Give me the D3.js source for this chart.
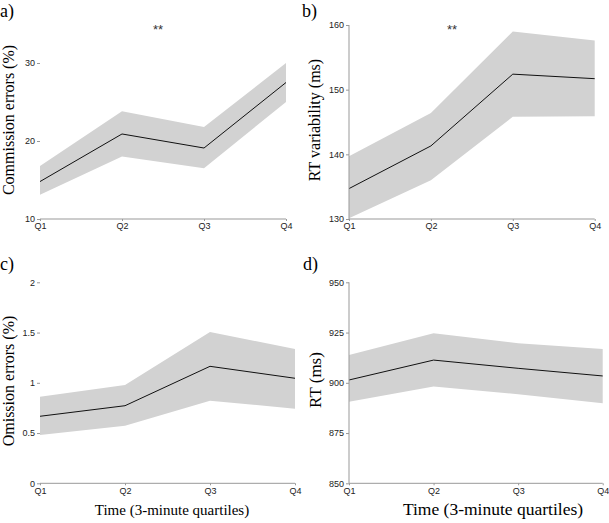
<!DOCTYPE html>
<html><head><meta charset="utf-8">
<script src="https://cdn.jsdelivr.net/npm/d3@7"></script>
<style>body{margin:0;background:#fff}svg{display:block}</style>
</head><body>
<svg id="c" width="609" height="523"></svg>
<script>
const quartiles = ["Q1","Q2","Q3","Q4"];
const commMean = [14.8, 20.9, 19.1, 27.5];
const commUpper = [16.8, 23.8, 21.8, 30.0];
const commLower = [13.1, 18.0, 16.5, 25.0];
const commTicks = [10, 20, 30];
const rtvMean = [134.7, 141.3, 152.4, 151.7];
const rtvUpper = [139.7, 146.4, 159.0, 157.6];
const rtvLower = [130.1, 136.0, 145.8, 145.9];
const rtvTicks = [130, 140, 150, 160];
const omMean = [0.667, 0.772, 1.164, 1.045];
const omUpper = [0.862, 0.978, 1.505, 1.336];
const omLower = [0.48, 0.573, 0.822, 0.742];
const omTicks = [0, 0.5, 1, 1.5, 2];
const rtMean = [901.4, 911.3, 907.2, 903.4];
const rtUpper = [913.8, 924.6, 919.7, 916.8];
const rtLower = [890.6, 898.1, 894.3, 889.8];
const rtTicks = [850, 875, 900, 925, 950];

const svg = d3.select("#c");
const panels = [
  {letter:"a)", lx:0, ly:17, ylab:"Commission errors (%)", ylabX:14, ylabY:120, ylabS:16, mean:commMean, up:commUpper, lo:commLower, ticks:commTicks, dom:[10,30], x0:40, x1:286, yb:219, yt:63, yline:false, stars:[158,34], xtitle:null},
  {letter:"b)", lx:302, ly:17, ylab:"RT variability (ms)", ylabX:320, ylabY:120, ylabS:16, mean:rtvMean, up:rtvUpper, lo:rtvLower, ticks:rtvTicks, dom:[130,160], x0:349, x1:594.7, yb:219, yt:25, yline:true, stars:[452,34], xtitle:null},
  {letter:"c)", lx:0, ly:270, ylab:"Omission errors (%)", ylabX:14, ylabY:381, ylabS:16, mean:omMean, up:omUpper, lo:omLower, ticks:omTicks, dom:[0,2], x0:40, x1:295, yb:483.3, yt:282.3, yline:false, stars:null, xtitle:[172,515,15]},
  {letter:"d)", lx:303, ly:270, ylab:"RT (ms)", ylabX:321, ylabY:380, ylabS:17, mean:rtMean, up:rtUpper, lo:rtLower, ticks:rtTicks, dom:[850,950], x0:349, x1:602.7, yb:483.3, yt:282.3, yline:true, stars:null, xtitle:[493,515,17.5]}
];

const axisCol = "#999";
panels.forEach(p => {
  const g = svg.append("g");
  const x = d3.scalePoint().domain(quartiles).range([p.x0, p.x1]);
  const y = d3.scaleLinear().domain(p.dom).range([p.yb, p.yt]);
  const data = quartiles.map((q,i)=>({q, m:p.mean[i], u:p.up[i], l:p.lo[i]}));
  g.append("path").datum(data)
    .attr("d", d3.area().x(d=>x(d.q)).y0(d=>y(d.l)).y1(d=>y(d.u)))
    .attr("fill","#d2d2d2");
  g.append("path").datum(data)
    .attr("d", d3.line().x(d=>x(d.q)).y(d=>y(d.m)))
    .attr("fill","none").attr("stroke","#111").attr("stroke-width",1);

  const xa = g.append("g").attr("transform",`translate(0,${p.yb})`)
    .call(d3.axisBottom(x).tickSize(2).tickPadding(2));
  xa.select(".domain").attr("stroke",axisCol).attr("d",`M${p.x0},0H${p.x1}`);
  xa.selectAll(".tick line").attr("stroke",axisCol);
  xa.selectAll("text").attr("font-family","Liberation Sans, Arial, sans-serif").attr("font-size",9).attr("fill","#222");

  const ya = g.append("g").attr("transform",`translate(${p.x0},0)`)
    .call(d3.axisLeft(y).tickValues(p.ticks).tickSize(3).tickPadding(2).tickFormat(d3.format("")));
  if (p.yline) ya.select(".domain").attr("stroke",axisCol).attr("d",`M0,${y(p.dom[0])}V${y(p.dom[1])}`);
  else ya.select(".domain").remove();
  ya.selectAll(".tick line").attr("stroke",axisCol);
  ya.selectAll("text").attr("font-family","Liberation Sans, Arial, sans-serif").attr("font-size",9).attr("fill","#222");

  svg.append("text").attr("x",p.lx).attr("y",p.ly).text(p.letter)
    .attr("font-family","Liberation Serif, Times New Roman, serif").attr("font-size",18).attr("fill","#000");
  svg.append("text").attr("transform",`translate(${p.ylabX},${p.ylabY}) rotate(-90)`)
    .attr("text-anchor","middle").text(p.ylab)
    .attr("font-family","Liberation Serif, Times New Roman, serif").attr("font-size",p.ylabS).attr("fill","#000");
  if (p.stars) svg.append("text").attr("x",p.stars[0]).attr("y",p.stars[1]).attr("text-anchor","middle").text("**")
    .attr("font-family","Liberation Sans, Arial, sans-serif").attr("font-size",13).attr("fill","#333");
  if (p.xtitle) svg.append("text").attr("x",p.xtitle[0]).attr("y",p.xtitle[1]).attr("text-anchor","middle")
    .text("Time (3-minute quartiles)")
    .attr("font-family","Liberation Serif, Times New Roman, serif").attr("font-size",p.xtitle[2]).attr("fill","#000");
});
</script>
</body></html>
